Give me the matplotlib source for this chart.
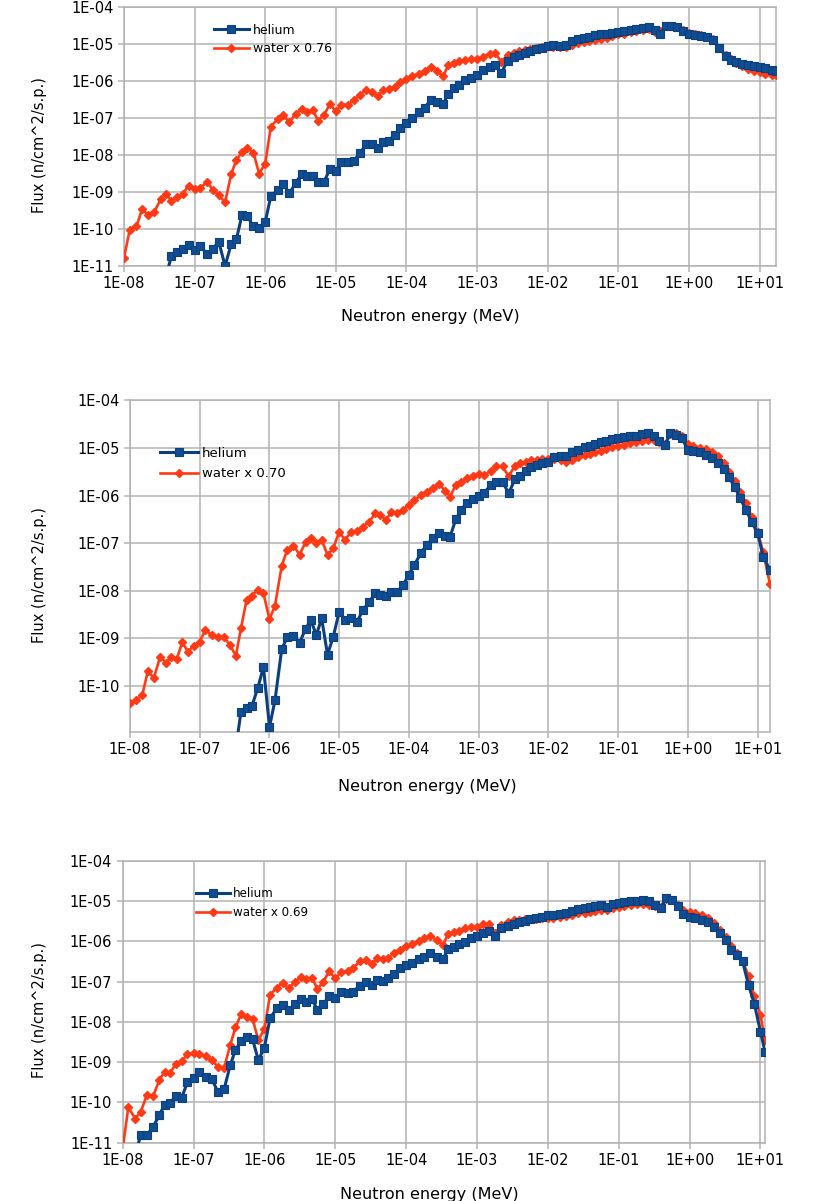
import numpy as np
import matplotlib
matplotlib.use("Agg")
import matplotlib.pyplot as plt
from matplotlib.ticker import FixedLocator, FuncFormatter, NullLocator

plt.rcParams['font.family'] = ['DejaVu Sans']

# ---------------- data (energy in MeV, flux values stored as log10 of n/cm^2/s.p.) ----------------
energy_base = [
    1.0e-8, 1.2e-8, 1.5e-8, 1.8e-8, 2.2e-8, 2.7e-8, 3.3e-8, 3.9e-8, 4.7e-8, 5.6e-8, 6.8e-8, 8.2e-8,
    1.0e-7, 1.2e-7, 1.5e-7, 1.8e-7, 2.2e-7, 2.7e-7, 3.3e-7, 3.9e-7, 4.7e-7, 5.6e-7, 6.8e-7, 8.2e-7,
    1.0e-6, 1.2e-6, 1.5e-6, 1.8e-6, 2.2e-6, 2.7e-6, 3.3e-6, 3.9e-6, 4.7e-6, 5.6e-6, 6.8e-6, 8.2e-6,
    1.0e-5, 1.2e-5, 1.5e-5, 1.8e-5, 2.2e-5, 2.7e-5, 3.3e-5, 3.9e-5, 4.7e-5, 5.6e-5, 6.8e-5, 8.2e-5,
    1.0e-4, 1.2e-4, 1.5e-4, 1.8e-4, 2.2e-4, 2.7e-4, 3.3e-4, 3.9e-4, 4.7e-4, 5.6e-4, 6.8e-4, 8.2e-4,
    1.0e-3, 1.2e-3, 1.5e-3, 1.8e-3, 2.2e-3, 2.7e-3, 3.3e-3, 3.9e-3, 4.7e-3, 5.6e-3, 6.8e-3, 8.2e-3,
    1.0e-2, 1.2e-2, 1.5e-2, 1.8e-2, 2.2e-2, 2.7e-2, 3.3e-2, 3.9e-2, 4.7e-2, 5.6e-2, 6.8e-2, 8.2e-2,
    1.0e-1, 1.2e-1, 1.5e-1, 1.8e-1, 2.2e-1, 2.7e-1, 3.3e-1, 3.9e-1, 4.7e-1, 5.6e-1, 6.8e-1, 8.2e-1,
    1.0e0, 1.2e0, 1.5e0, 1.8e0, 2.2e0, 2.7e0, 3.3e0, 3.9e0, 4.7e0, 5.6e0, 6.8e0, 8.2e0,
]
energy_1 = energy_base + [10.0, 12.0, 15.0, 17.0]
energy_2 = energy_base + [10.0, 12.0, 15.0]
energy_3 = energy_base + [10.0, 11.6]

N = None

helium_1_log = [
    N, N, N, N, N, N, N, -11.3, -10.73, -10.62, -10.55, -10.44,
    -10.58, -10.46, -10.67, -10.53, -10.35, -11.0, -10.40, -10.28, -9.61, -9.66, -9.93, -9.96,
    -9.81, -9.11, -8.95, -8.79, -9.04, -8.75, -8.51, -8.58, -8.56, -8.73, -8.73, -8.38,
    -8.42, -8.20, -8.20, -8.15, -7.95, -7.70, -7.71, -7.80, -7.64, -7.62, -7.45, -7.27,
    -7.13, -7.00, -6.85, -6.72, -6.52, -6.57, -6.63, -6.35, -6.20, -6.10, -5.98, -5.92,
    -5.85, -5.70, -5.62, -5.58, -5.78, -5.45, -5.35, -5.30, -5.24, -5.18, -5.13, -5.10,
    -5.05, -5.04, -5.05, -5.04, -4.92, -4.86, -4.84, -4.80, -4.76, -4.74, -4.72, -4.70,
    -4.68, -4.65, -4.62, -4.60, -4.56, -4.55, -4.62, -4.73, -4.50, -4.51, -4.53, -4.65,
    -4.73, -4.75, -4.78, -4.82, -4.90, -5.10, -5.32, -5.42, -5.48, -5.53, -5.57, -5.60,
    -5.62, -5.66, -5.70, -5.73,
]
water_1_log = [
    -10.78, -10.04, -9.93, -9.47, -9.62, -9.53, -9.20, -9.06, -9.23, -9.13, -9.05, -8.83,
    -8.92, -8.90, -8.72, -8.94, -9.09, -9.28, -8.51, -8.14, -7.92, -7.80, -7.94, -8.50,
    -8.23, -7.23, -7.03, -6.93, -7.12, -6.88, -6.77, -6.84, -6.78, -7.07, -6.92, -6.63,
    -6.82, -6.64, -6.64, -6.50, -6.39, -6.23, -6.30, -6.41, -6.23, -6.21, -6.16, -6.03,
    -5.94, -5.87, -5.80, -5.72, -5.62, -5.72, -5.87, -5.58, -5.52, -5.46, -5.44, -5.41,
    -5.40, -5.35, -5.26, -5.25, -5.48, -5.30, -5.23, -5.19, -5.16, -5.14, -5.11, -5.08,
    -5.06, -5.07, -5.09, -5.08, -5.02, -4.98, -4.94, -4.92, -4.89, -4.86, -4.83, -4.79,
    -4.74, -4.72, -4.68, -4.66, -4.63, -4.60, -4.67, -4.64, -4.52, -4.52, -4.54, -4.62,
    -4.71, -4.73, -4.76, -4.80, -4.86, -5.10, -5.30, -5.40, -5.50, -5.60, -5.67, -5.72,
    -5.76, -5.80, -5.84, -5.85,
]

helium_2_log = [
    N, N, N, N, N, N, N, N, N, N, N, N,
    N, N, N, N, N, N, -11.3, -10.54, -10.47, -10.42, -10.04, -9.60,
    -10.86, -10.30, -9.22, -8.98, -8.94, -9.09, -8.80, -8.61, -8.93, -8.58, -9.34, -8.97,
    -8.44, -8.61, -8.58, -8.65, -8.40, -8.23, -8.05, -8.09, -8.10, -8.02, -8.02, -7.88,
    -7.66, -7.45, -7.20, -7.03, -6.90, -6.78, -6.84, -6.86, -6.50, -6.30, -6.15, -6.07,
    -6.01, -5.94, -5.78, -5.71, -5.72, -5.95, -5.66, -5.58, -5.48, -5.40, -5.35, -5.32,
    -5.29, -5.20, -5.18, -5.18, -5.09, -5.04, -4.98, -4.95, -4.91, -4.88, -4.85, -4.82,
    -4.80, -4.78, -4.75, -4.74, -4.71, -4.69, -4.76, -4.85, -4.94, -4.69, -4.72, -4.80,
    -5.04, -5.06, -5.09, -5.14, -5.22, -5.32, -5.45, -5.62, -5.82, -6.05, -6.30, -6.55,
    -6.79, -7.28, -7.56,
]
water_2_log = [
    -10.35, -10.30, -10.19, -9.69, -9.83, -9.39, -9.51, -9.39, -9.43, -9.08, -9.28, -9.15,
    -9.07, -8.82, -8.93, -8.98, -8.96, -9.14, -9.36, -8.79, -8.19, -8.10, -7.98, -8.05,
    -8.60, -8.31, -7.47, -7.14, -7.05, -7.24, -6.98, -6.89, -7.00, -6.93, -7.25, -7.11,
    -6.76, -6.93, -6.76, -6.74, -6.65, -6.55, -6.37, -6.41, -6.51, -6.34, -6.37, -6.30,
    -6.20, -6.10, -5.98, -5.92, -5.85, -5.76, -5.90, -6.02, -5.78, -5.72, -5.64, -5.60,
    -5.55, -5.57, -5.48, -5.39, -5.39, -5.60, -5.37, -5.32, -5.29, -5.26, -5.25, -5.24,
    -5.23, -5.24, -5.26, -5.29, -5.26, -5.20, -5.15, -5.12, -5.09, -5.06, -5.02, -4.99,
    -4.97, -4.94, -4.90, -4.88, -4.85, -4.83, -4.84, -4.87, -4.92, -4.70, -4.69, -4.76,
    -4.92, -4.96, -5.00, -5.03, -5.08, -5.16, -5.32, -5.50, -5.70, -5.92, -6.15, -6.45,
    -6.76, -7.18, -7.86,
]

helium_3_log = [
    N, N, -11.3, -10.81, -10.81, -10.60, -10.31, -10.06, -10.02, -9.83, -9.88, -9.50,
    -9.40, -9.25, -9.36, -9.42, -9.73, -9.67, -9.07, -8.70, -8.47, -8.37, -8.43, -8.95,
    -8.64, -7.91, -7.66, -7.58, -7.71, -7.56, -7.44, -7.50, -7.43, -7.71, -7.56, -7.36,
    -7.42, -7.25, -7.29, -7.25, -7.10, -7.00, -7.09, -6.96, -6.98, -6.90, -6.80, -6.67,
    -6.60, -6.55, -6.45, -6.38, -6.30, -6.38, -6.45, -6.20, -6.14, -6.08, -6.01, -5.93,
    -5.86, -5.80, -5.75, -5.86, -5.68, -5.62, -5.56, -5.53, -5.49, -5.45, -5.42, -5.39,
    -5.35, -5.34, -5.33, -5.30, -5.25, -5.21, -5.18, -5.16, -5.13, -5.10, -5.14, -5.08,
    -5.05, -5.03, -5.01, -4.99, -4.98, -5.01, -5.10, -5.17, -4.93, -4.98, -5.12, -5.33,
    -5.39, -5.43, -5.47, -5.53, -5.64, -5.80, -5.98, -6.22, -6.35, -6.50, -7.09, -7.55,
    -8.24, -8.74,
]
water_3_log = [
    -11.15, -10.12, -10.40, -10.23, -9.81, -9.83, -9.44, -9.24, -9.26, -9.05, -8.97, -8.81,
    -8.78, -8.81, -8.84, -8.95, -9.11, -9.14, -8.57, -8.14, -7.81, -7.89, -7.93, -8.45,
    -8.18, -7.33, -7.15, -7.04, -7.17, -7.00, -6.89, -6.94, -6.90, -7.19, -7.00, -6.75,
    -6.92, -6.77, -6.74, -6.66, -6.50, -6.46, -6.57, -6.42, -6.44, -6.41, -6.30, -6.22,
    -6.12, -6.08, -6.00, -5.93, -5.86, -5.98, -6.10, -5.82, -5.78, -5.74, -5.68, -5.65,
    -5.64, -5.58, -5.56, -5.80, -5.60, -5.52, -5.48, -5.46, -5.45, -5.45, -5.44, -5.43,
    -5.41, -5.41, -5.40, -5.38, -5.34, -5.31, -5.29, -5.27, -5.24, -5.22, -5.22, -5.17,
    -5.14, -5.12, -5.09, -5.08, -5.08, -5.09, -5.12, -5.14, -4.95, -4.97, -5.10, -5.22,
    -5.27, -5.31, -5.36, -5.42, -5.55, -5.72, -5.90, -6.12, -6.28, -6.48, -6.86, -7.35,
    -7.83, -8.45,
]

water_labels = ["water x 0.76", "water x 0.70", "water x 0.69"]
helium_label = "helium"
x_label = "Neutron energy (MeV)"
y_label = "Flux (n/cm^2/s.p.)"

# ---------------- layout ----------------
W, H = 814, 1201
panels = [
    dict(box=(124, 7, 775.7, 266), energy=energy_1, he=helium_1_log, wa=water_1_log,
         xmax=16.9, ymin=1e-11, wlabel=water_labels[0],
         leg=(0.138, 0.9355), leg_fs=9.0, leg_ls=0.45, leg_hl=2.8, leg_tp=0.3,
         xl=(0.47, -0.166), yl=(-0.130, 0.467)),
    dict(box=(130, 400.3, 770.3, 731.7), energy=energy_2, he=helium_2_log, wa=water_2_log,
         xmax=15.2, ymin=1.1e-11, wlabel=water_labels[1],
         leg=(0.0469, 0.860), leg_fs=9.5, leg_ls=0.58, leg_hl=2.88, leg_tp=0.3,
         xl=(0.464, -0.1436), yl=(-0.1418, 0.473)),
    dict(box=(122.7, 860.7, 765, 1142.7), energy=energy_3, he=helium_3_log, wa=water_3_log,
         xmax=11.6, ymin=1e-11, wlabel=water_labels[2],
         leg=(0.114, 0.906), leg_fs=8.6, leg_ls=0.52, leg_hl=2.85, leg_tp=0.25,
         xl=(0.478, -0.156), yl=(-0.130, 0.4706)),
]

GRID = '#b3b3b3'
BLUE = '#0b3f7f'
BLUE_FACE = '#104d92'
RED = '#ff3a14'

fig = plt.figure(figsize=(W / 100, H / 100), dpi=100)


def fmt(v, pos):
    e = int(round(np.log10(v)))
    return f"1E{e:+03d}"


for p in panels:
    l, t, r, b = p['box']
    ax = fig.add_axes([l / W, 1 - b / H, (r - l) / W, (b - t) / H])
    e = np.array(p['energy'], dtype=float)
    he = 10.0 ** np.array(p['he'], dtype=float)
    wa = 10.0 ** np.array(p['wa'], dtype=float)

    lw_line, = ax.plot(e, wa, color=RED, lw=1.9, marker='D', ms=4.0,
                       mfc=RED, mec=RED, label=p['wlabel'], zorder=3)
    lh_line, = ax.plot(e, he, color=BLUE, lw=2.2, marker='s', ms=5.6,
                       mfc=BLUE_FACE, mec=BLUE, mew=0.8, label=helium_label, zorder=4)

    ax.set_xscale('log')
    ax.set_yscale('log')
    ax.set_xlim(1e-8, p['xmax'])
    ax.set_ylim(p['ymin'], 1e-4)

    ax.xaxis.set_major_locator(FixedLocator([10.0 ** k for k in range(-8, 2)]))
    ax.yaxis.set_major_locator(FixedLocator([10.0 ** k for k in range(-11, -3)]))
    ax.xaxis.set_minor_locator(NullLocator())
    ax.yaxis.set_minor_locator(NullLocator())
    ax.xaxis.set_major_formatter(FuncFormatter(fmt))
    ax.yaxis.set_major_formatter(FuncFormatter(fmt))

    ax.grid(True, which='major', color=GRID, lw=1.1)
    ax.set_axisbelow(True)
    for s in ax.spines.values():
        s.set_color(GRID)
        s.set_linewidth(1.1)
    ax.tick_params(axis='both', which='major', direction='out', length=4,
                   width=1.1, color=GRID, labelcolor='black', labelsize=10.5, pad=3.5)

    ax.set_xlabel(x_label, fontsize=11.5, ha='center', va='top')
    ax.xaxis.set_label_coords(*p['xl'])
    ax.set_ylabel(y_label, fontsize=10.5, ha='center', va='center')
    ax.yaxis.set_label_coords(*p['yl'])

    ax.legend(handles=[lh_line, lw_line], loc='upper left', bbox_to_anchor=p['leg'],
              frameon=False, borderpad=0, borderaxespad=0, numpoints=1,
              handlelength=p['leg_hl'], handletextpad=p['leg_tp'],
              labelspacing=p['leg_ls'], prop={'size': p['leg_fs']})

fig.savefig('out.png', dpi=100)
